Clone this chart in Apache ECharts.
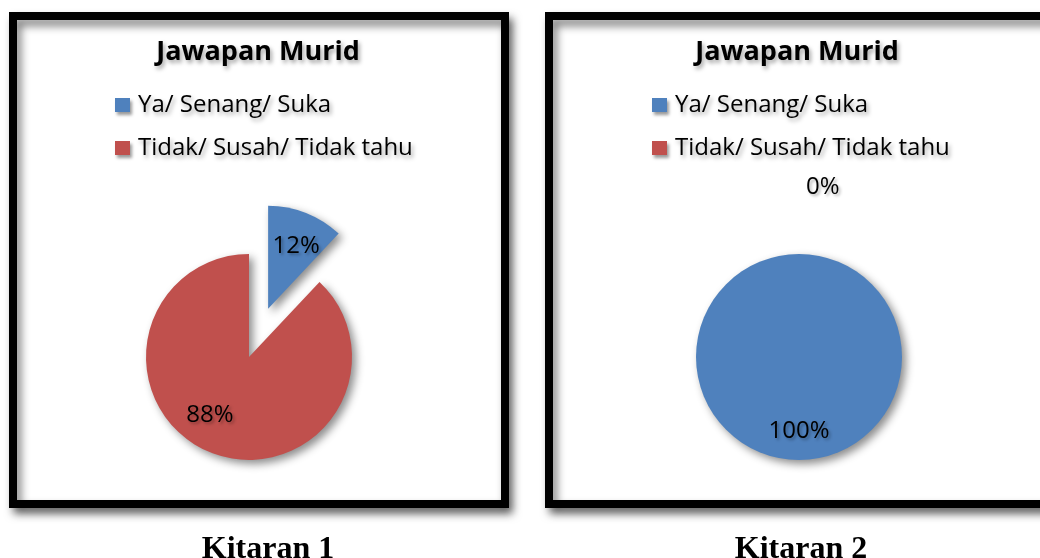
<!DOCTYPE html>
<html>
<head>
<meta charset="utf-8">
<title>Jawapan Murid</title>
<script src="https://cdn.jsdelivr.net/npm/echarts@6/dist/echarts.min.js"></script>
<style>
html, body { margin: 0; padding: 0; background: #fff; }
#main { width: 1040px; height: 558px; }
</style>
</head>
<body>
<div id="main"></div>
<script>
// data
var categories = ['Ya/ Senang/ Suka', 'Tidak/ Susah/ Tidak tahu'];
var kitaran1 = [12, 88];
var kitaran2 = [100, 0];
var captions = ['Kitaran 1', 'Kitaran 2'];
var chartTitle = 'Jawapan Murid';
var colors = ['#4F81BD', '#C0504D'];

// geser label sedikit supaya mirip excel
var labelShift1 = [[8, -12], [-19, 7]];
var labelShift2 = [[0, 20], [-4, -7]];

var myChart = echarts.init(document.getElementById('main'));

var shadowText = {
	textShadowColor: 'rgba(0,0,0,0.35)',
	textShadowBlur: 4,
	textShadowOffsetX: 2,
	textShadowOffsetY: 3
};

function makePie(values, cx, shift, explodeFirst) {
	var data = [];
	for (var i = 0; i < values.length; i++) {
		var item = {
			name: categories[i],
			value: values[i],
			itemStyle: { color: colors[i] }
		};
		if (values[i] === 0) {
			item.label = { position: 'outside' };
			item.labelLine = { show: false, length: 60, length2: 6 };
		}
		if (explodeFirst && i === 0) {
			item.selected = true;
		}
		data.push(item);
	}
	return {
		type: 'pie',
		center: [cx, 357],
		radius: 103,
		startAngle: 90,
		clockwise: true,
		selectedMode: explodeFirst ? 'single' : false,
		selectedOffset: 52,
		avoidLabelOverlap: false,
		animation: false,
		z: 5,
		label: {
			show: true,
			position: 'inside',
			formatter: '{d}%',
			fontFamily: 'Open Sans',
			fontSize: 24,
			color: '#000',
			textShadowColor: 'rgba(0,0,0,0.3)',
			textShadowBlur: 3,
			textShadowOffsetX: 2,
			textShadowOffsetY: 2
		},
		labelLine: { show: false },
		itemStyle: {
			shadowBlur: 8,
			shadowOffsetX: 4,
			shadowOffsetY: 4,
			shadowColor: 'rgba(0,0,0,0.45)'
		},
		emphasis: { disabled: true },
		labelLayout: function (p) {
			var s = shift[p.dataIndex];
			return { dx: s[0], dy: s[1] };
		},
		data: data
	};
}

function makeLegend(left) {
	return {
		orient: 'vertical',
		left: left,
		top: 92,
		padding: 0,
		itemWidth: 15,
		itemHeight: 14,
		itemGap: 17,
		icon: 'rect',
		selectedMode: false,
		data: categories,
		itemStyle: {
			shadowBlur: 3,
			shadowOffsetX: 2,
			shadowOffsetY: 3,
			shadowColor: 'rgba(0,0,0,0.4)'
		},
		textStyle: Object.assign({
			fontFamily: 'Open Sans',
			fontSize: 24,
			lineHeight: 26,
			color: '#000',
			padding: [0, 0, 0, 3]
		}, shadowText)
	};
}

function panel(x, w) {
	return {
		type: 'rect',
		z: -10,
		shape: { x: x, y: 16, width: w, height: 488 },
		style: {
			fill: '#fff',
			stroke: '#000',
			lineWidth: 8,
			shadowBlur: 8,
			shadowOffsetX: 4,
			shadowOffsetY: 6,
			shadowColor: 'rgba(0,0,0,0.5)'
		}
	};
}

function label(text, x, y, font, withShadow) {
	var st = {
		text: text,
		x: x,
		y: y,
		font: font,
		fill: '#000',
		align: 'center',
		verticalAlign: 'middle'
	};
	if (withShadow) Object.assign(st, shadowText);
	return { type: 'text', z: 10, style: st };
}

var option = {
	backgroundColor: '#fff',
	animation: false,
	legend: [makeLegend(115), makeLegend(652)],
	graphic: [
		panel(13, 492),
		panel(549, 520),
		label(chartTitle, 258, 52, 'bold 27px "Open Sans"', true),
		label(chartTitle, 797, 52, 'bold 27px "Open Sans"', true),
		label(captions[0], 268, 550, 'bold 32px "Liberation Serif"', false),
		label(captions[1], 801, 550, 'bold 32px "Liberation Serif"', false)
	],
	series: [
		makePie(kitaran1, 249, labelShift1, true),
		makePie(kitaran2, 799, labelShift2, false)
	]
};

myChart.setOption(option);
</script>
</body>
</html>
